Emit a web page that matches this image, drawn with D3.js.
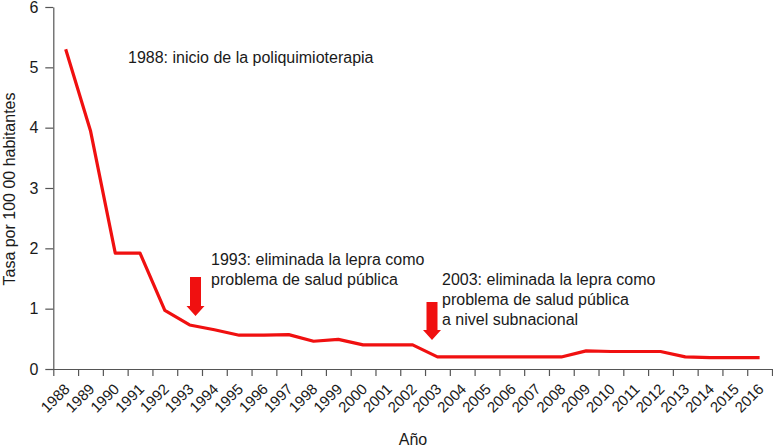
<!DOCTYPE html>
<html>
<head>
<meta charset="utf-8">
<script src="https://cdn.jsdelivr.net/npm/d3@7"></script>
<style>
  html, body { margin: 0; padding: 0; background: #fff; }
  svg { display: block; }
  text { font-family: 'Liberation Sans', Arial, sans-serif; fill: #1a1a1a; }
</style>
</head>
<body>
<div id="chart"></div>
<script>
// ── Data ─────────────────────────────────────────────
const years = d3.range(1988, 2017);
const rates = [
  5.30, 3.95, 1.92, 1.92, 0.97, 0.73, 0.65, 0.56, 0.56, 0.57,
  0.46, 0.49, 0.40, 0.40, 0.40, 0.20, 0.20, 0.20, 0.20, 0.20,
  0.20, 0.30, 0.29, 0.29, 0.29, 0.20, 0.19, 0.19, 0.19
];
const yTicks = [0, 1, 2, 3, 4, 5, 6];

// annotations: year the arrow points at, text lines
const notes = [
  { year: 1988, lines: ['1988: inicio de la poliquimioterapia'], arrow: false },
  { year: 1993, lines: ['1993: eliminada la lepra como', 'problema de salud pública'], arrow: true },
  { year: 2003, lines: ['2003: eliminada la lepra como', 'problema de salud pública', 'a nivel subnacional'], arrow: true },
];

// ── Layout ───────────────────────────────────────────
const W = 773, H = 447;
const M = { left: 53.3, right: 1, top: 7, bottom: 78 };
const RED = '#f01010';
const AXIS = '#555';

const svg = d3.select('#chart').append('svg')
  .attr('width', W).attr('height', H)
  .attr('viewBox', `0 0 ${W} ${H}`);

const x = d3.scaleLinear()
  .domain([1987.5, 2016.5])
  .range([M.left, W - M.right]);
const y = d3.scaleLinear()
  .domain([0, 6])
  .range([H - M.bottom, M.top]);

// ── Y axis ───────────────────────────────────────────
const yAxis = svg.append('g')
  .attr('transform', `translate(${M.left},0)`)
  .call(d3.axisLeft(y).tickValues(yTicks).tickFormat(d3.format('d'))
    .tickSize(8).tickPadding(7).tickSizeOuter(0));
yAxis.attr('font-family', null);
yAxis.select('.domain').attr('stroke', AXIS).attr('stroke-width', 1.2);
yAxis.selectAll('.tick line').attr('stroke', AXIS).attr('stroke-width', 1.2);
yAxis.selectAll('.tick text')
  .attr('font-size', 16).attr('fill', '#1a1a1a');

// ── X axis: ticks on the year boundaries ─────────────
const bounds = d3.range(1987.5, 2017, 1);
const xAxis = svg.append('g')
  .attr('transform', `translate(0,${y(0)})`)
  .call(d3.axisBottom(x).tickValues(bounds).tickSize(7).tickFormat('').tickSizeOuter(0));
xAxis.attr('font-family', null);
xAxis.select('.domain').attr('stroke', AXIS).attr('stroke-width', 1.2)
  .attr('d', `M${M.left - 2},0.5H${W}`);
xAxis.selectAll('.tick line').attr('stroke', AXIS).attr('stroke-width', 1.2);

// year labels, rotated
svg.append('g').selectAll('text')
  .data(years)
  .join('text')
  .attr('text-anchor', 'end')
  .attr('font-size', 15)
  .attr('transform', d => `translate(${x(d) + 5},${y(0) + 21}) rotate(-45)`)
  .text(d => d);

// axis titles
svg.append('text')
  .attr('text-anchor', 'middle')
  .attr('font-size', 16)
  .attr('transform', `translate(15,189) rotate(-90)`)
  .text('Tasa por 100 00 habitantes');

svg.append('text')
  .attr('x', 413).attr('y', H - 2)
  .attr('text-anchor', 'middle')
  .attr('font-size', 16)
  .text('Año');

// ── Line ─────────────────────────────────────────────
const line = d3.line()
  .x((d, i) => x(years[i]))
  .y(d => y(d));

svg.append('path')
  .datum(rates)
  .attr('fill', 'none')
  .attr('stroke', RED)
  .attr('stroke-width', 3.2)
  .attr('stroke-linejoin', 'round')
  .attr('d', line);

// ── Annotations ──────────────────────────────────────
function arrow(cx, top, tip) {
  const sw = 5.5, hw = 9, head = 10;
  return `M${cx - sw},${top}H${cx + sw}V${tip - head}H${cx + hw}L${cx},${tip}L${cx - hw},${tip - head}H${cx - sw}Z`;
}

// text anchor points (left x, first baseline y)
const notePos = {
  1988: { tx: 128, ty: 63 },
  1993: { tx: 211, ty: 265, ax: 195.5, atop: 277, atip: 316 },
  2003: { tx: 442, ty: 285, ax: 432, atop: 302, atip: 340 },
};

notes.forEach(n => {
  const p = notePos[n.year];
  const t = svg.append('text')
    .attr('x', p.tx).attr('y', p.ty)
    .attr('font-size', 16);
  n.lines.forEach((l, i) => {
    t.append('tspan').attr('x', p.tx).attr('dy', i === 0 ? 0 : 20).text(l);
  });
  if (n.arrow) {
    svg.append('path')
      .attr('d', arrow(p.ax, p.atop, p.atip))
      .attr('fill', RED);
  }
});
</script>
</body>
</html>
